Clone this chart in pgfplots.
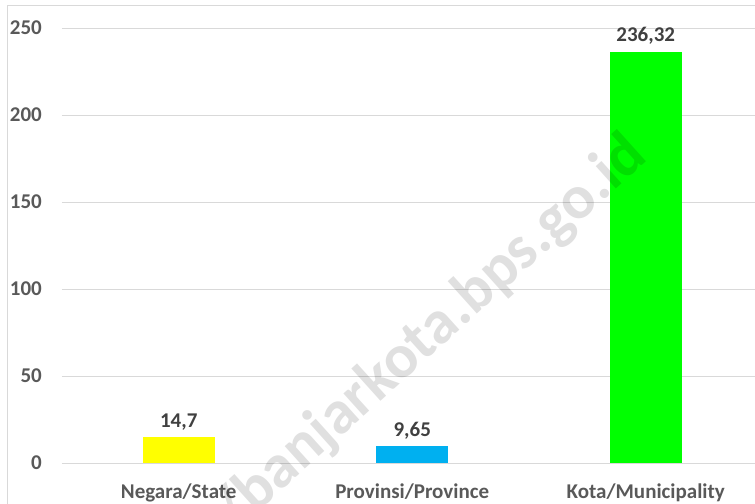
\documentclass[border=0pt]{standalone}
\usepackage{pgfplots}
\pgfplotsset{compat=1.18}
\usepackage{fontspec}
\setmainfont{Carlito}
\definecolor{tickgray}{HTML}{595959}
\definecolor{labgray}{HTML}{404040}
\definecolor{gridgray}{HTML}{D9D9D9}
\definecolor{cyel}{HTML}{FFFF00}
\definecolor{cblue}{HTML}{00B0F0}
\definecolor{cgreen}{HTML}{00FF00}
\begin{document}
\begin{tikzpicture}
\useasboundingbox (-62bp,-41bp) rectangle (693bp,463bp);
\draw[color=gridgray, line width=0.75bp] (-55bp,-60bp) -- (-55bp,458bp) -- (720bp,458bp);
\begin{axis}[
  at={(0,0)}, anchor=south west,
  scale only axis, width=693bp, height=435bp,
  xmin=-0.5, xmax=2.468, ymin=0, ymax=250,
  ytick={0,50,...,250},
  xtick={0,1,2},
  xticklabels={Negara/State, Provinsi/Province, Kota/Municipality},
  ymajorgrids, grid style={color=gridgray, line width=0.75bp},
  axis line style={draw=none},
  major tick length=0pt, tick style={draw=none},
  /pgf/number format/assume math mode=true,
  tick label style={font=\bfseries\fontsize{21bp}{21bp}\selectfont, text=tickgray},
  yticklabel style={anchor=east, inner sep=0pt, xshift=-20bp},
  xticklabel style={anchor=north, inner sep=0pt, yshift=-21bp},
  clip=false,
  point meta=explicit symbolic,
  nodes near coords,
  nodes near coords style={font=\bfseries\fontsize{21bp}{21bp}\selectfont, text=labgray, anchor=south, inner sep=0pt, yshift=7bp},
]
\addplot[ybar, bar shift=0pt, bar width=72bp, fill=cyel, draw=none] coordinates {(0,14.7) [14,7]};
\addplot[ybar, bar shift=0pt, bar width=72bp, fill=cblue, draw=none] coordinates {(1,9.65) [9,65]};
\addplot[ybar, bar shift=0pt, bar width=72bp, fill=cgreen, draw=none] coordinates {(2,236.32) [236,32]};
\end{axis}
\node[rotate=42, anchor=base east, font=\bfseries\fontsize{62bp}{62bp}\selectfont, text=black, opacity=0.12] at (590bp,306bp) {/banjarkota.bps.go.id};
\end{tikzpicture}
\end{document}
